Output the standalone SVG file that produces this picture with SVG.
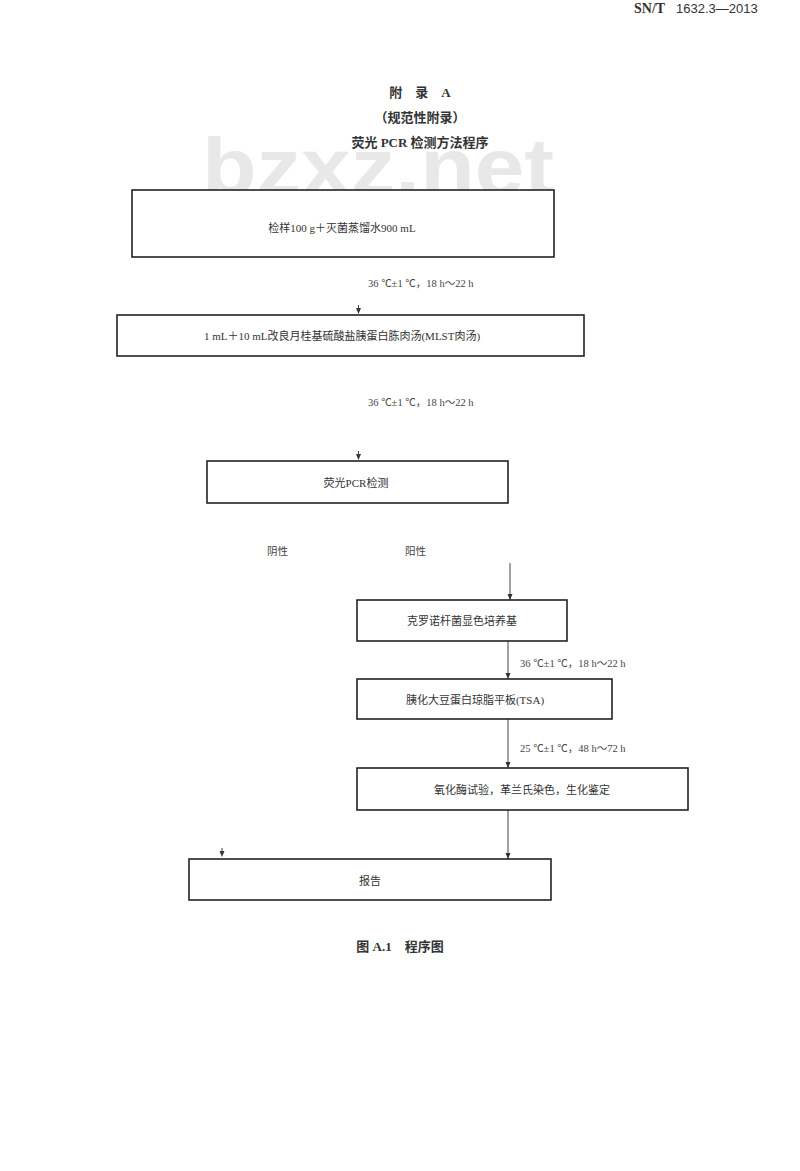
<svg xmlns="http://www.w3.org/2000/svg" width="800" height="1171" viewBox="0 0 800 1171">
<style>
.box{fill:#fff;stroke:#222;stroke-width:1.6}
.t{font-family:"Liberation Serif","Noto Sans CJK SC",serif;font-size:11px;fill:#333;text-anchor:middle}
.lbl{font-family:"Liberation Serif","Noto Sans CJK SC",serif;font-size:10.5px;fill:#444}
.ttl{font-family:"Liberation Serif","Noto Sans CJK SC",serif;font-size:13px;font-weight:bold;fill:#333;text-anchor:middle}
.ln{stroke:#444;stroke-width:1;fill:none}
.ah{fill:#333}
</style>
<defs>
<marker id="arr" viewBox="0 0 6 6" refX="6" refY="3" markerWidth="6" markerHeight="6" markerUnits="userSpaceOnUse" orient="auto">
<path d="M0,0.5 L6,3 L0,5.5 Z" fill="#333"/>
</marker>
</defs>
<rect width="800" height="1171" fill="#fff"/>
<text x="634" y="13" font-family="Liberation Serif,serif" font-size="14" font-weight="bold" fill="#333">SN/T</text>
<text x="676" y="13" font-family="Liberation Sans,sans-serif" font-size="13" fill="#333">1632.3—2013</text>
<text x="378" y="194" font-family="Liberation Sans,sans-serif" font-size="80" font-weight="bold" fill="#e8e8e8" text-anchor="middle" textLength="352" lengthAdjust="spacingAndGlyphs">bzxz.net</text>
<g id="title">
<text class="ttl" x="420" y="97">附　录　A</text>
<text class="ttl" x="420" y="122" font-weight="normal">（规范性附录）</text>
<text class="ttl" x="420" y="147">荧光 PCR 检测方法程序</text>
</g>
<g id="connectors">
<path class="ah" d="M356,308 L361,308 L358.5,314 Z"/>
<line class="ln" x1="358.5" y1="305" x2="358.5" y2="310"/>
<path class="ah" d="M356,454 L361,454 L358.5,460 Z"/>
<line class="ln" x1="358.5" y1="451" x2="358.5" y2="456"/>
<line class="ln" x1="510" y1="563" x2="510" y2="600" marker-end="url(#arr)"/>
<line class="ln" x1="508" y1="641" x2="508" y2="679" marker-end="url(#arr)"/>
<line class="ln" x1="508" y1="719" x2="508" y2="768" marker-end="url(#arr)"/>
<line class="ln" x1="508" y1="810" x2="508" y2="859" marker-end="url(#arr)"/>
<path class="ah" d="M219.5,851 L224.5,851 L222,857 Z"/>
<line class="ln" x1="222" y1="848" x2="222" y2="853"/>
</g>
<g id="lbl1"><text class="lbl" x="368" y="287">36 ℃±1 ℃，18 h～22 h</text></g>
<g id="lbl2"><text class="lbl" x="368" y="406">36 ℃±1 ℃，18 h～22 h</text></g>
<g id="neg"><text class="lbl" x="267" y="555">阴性</text></g>
<g id="pos"><text class="lbl" x="405" y="555">阳性</text></g>
<g id="lbl3"><text class="lbl" x="520" y="667">36 ℃±1 ℃，18 h～22 h</text></g>
<g id="lbl4"><text class="lbl" x="520" y="752">25 ℃±1 ℃，48 h～72 h</text></g>
<g id="n1"><rect class="box" x="132" y="190" width="422" height="67"/><text class="t" x="342" y="232">检样100 g＋灭菌蒸馏水900 mL</text></g>
<g id="n2"><rect class="box" x="117" y="315" width="467" height="41"/><text class="t" x="342" y="340">1 mL＋10 mL改良月桂基硫酸盐胰蛋白胨肉汤(MLST肉汤)</text></g>
<g id="n3"><rect class="box" x="207" y="461" width="301" height="42"/><text class="t" x="356" y="487">荧光PCR检测</text></g>
<g id="n4"><rect class="box" x="357" y="600" width="210" height="41"/><text class="t" x="462" y="625">克罗诺杆菌显色培养基</text></g>
<g id="n5"><rect class="box" x="357" y="679" width="255" height="40"/><text class="t" x="475" y="704">胰化大豆蛋白琼脂平板(TSA)</text></g>
<g id="n6"><rect class="box" x="357" y="768" width="331" height="42"/><text class="t" x="522" y="794">氧化酶试验，革兰氏染色，生化鉴定</text></g>
<g id="n7"><rect class="box" x="189" y="859" width="362" height="41"/><text class="t" x="370" y="885">报告</text></g>
<text class="ttl" x="400" y="951">图 A.1　程序图</text>
</svg>
